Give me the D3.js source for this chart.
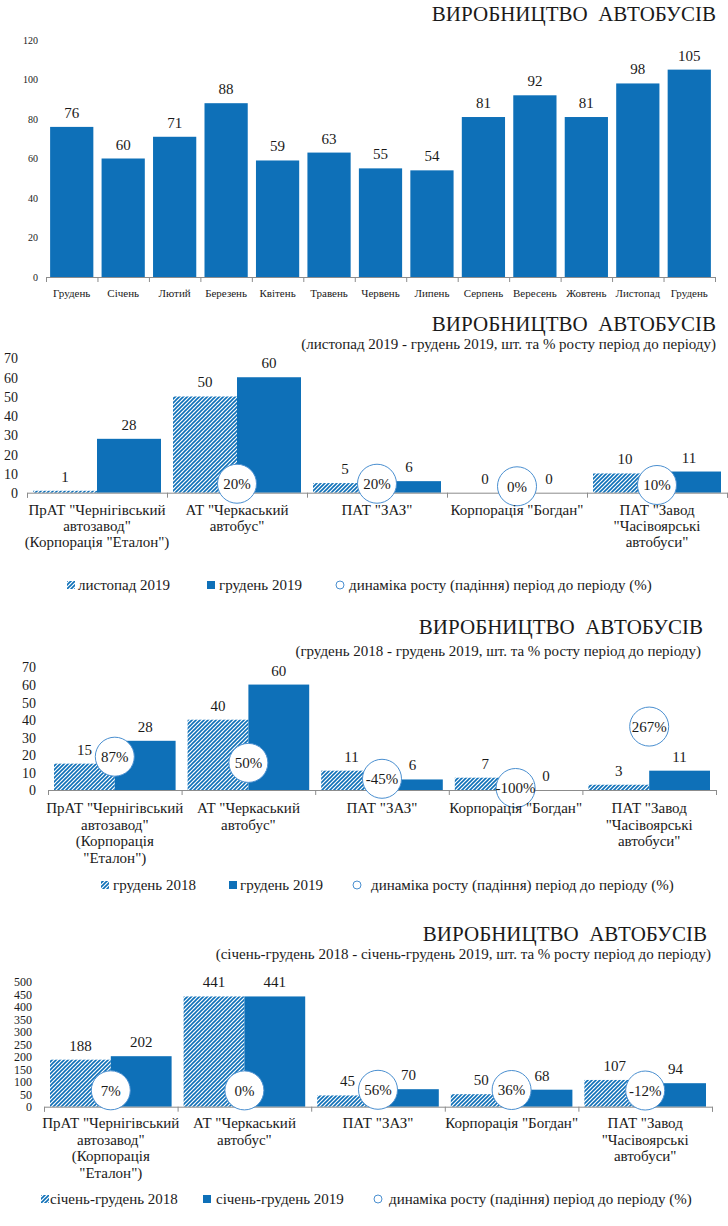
<!DOCTYPE html>
<html>
<head>
<meta charset="utf-8">
<script src="https://cdn.jsdelivr.net/npm/d3@7"></script>
<style>
  body { margin: 0; background: #fff; }
  text { font-family: "Liberation Serif", "DejaVu Serif", serif; fill: #1a1a1a; }
</style>
</head>
<body>
<div id="chart"></div>
<script>
// ---- data ----
var months = ["Грудень", "Січень", "Лютий", "Березень", "Квітень", "Травень", "Червень",
  "Липень", "Серпень", "Вересень", "Жовтень", "Листопад", "Грудень"];
var monthValues = [76, 60, 71, 88, 59, 63, 55, 54, 81, 92, 81, 98, 105];
var monthTicks = [0, 20, 40, 60, 80, 100, 120];

var companyLinesA = [
  ["ПрАТ \"Чернігівський", "автозавод\"", "(Корпорація \"Еталон\")"],
  ["АТ \"Черкаський", "автобус\""],
  ["ПАТ \"ЗАЗ\""],
  ["Корпорація \"Богдан\""],
  ["ПАТ \"Завод", "\"Часівоярські", "автобуси\""]
];
var companyLinesB = [
  ["ПрАТ \"Чернігівський", "автозавод\"", "(Корпорація", "\"Еталон\")"],
  ["АТ \"Черкаський", "автобус\""],
  ["ПАТ \"ЗАЗ\""],
  ["Корпорація \"Богдан\""],
  ["ПАТ \"Завод", "\"Часівоярські", "автобуси\""]
];

var nov2019 = [1, 50, 5, 0, 10];
var dec2019 = [28, 60, 6, 0, 11];
var growthNovDec = [null, 20, 20, 0, 10];

var dec2018 = [15, 40, 11, 7, 3];
var growthDec = [87, 50, -45, -100, 267];

var year2018 = [188, 441, 45, 50, 107];
var year2019 = [202, 441, 70, 68, 94];
var growthYear = [7, 0, 56, 36, -12];

var ticks70 = [0, 10, 20, 30, 40, 50, 60, 70];
var ticks500 = [0, 50, 100, 150, 200, 250, 300, 350, 400, 450, 500];

var titleText = "ВИРОБНИЦТВО  АВТОБУСІВ";
var growthName = "динаміка росту (падіння) період до періоду (%)";

var blue = "#0e70b8";
var ringBlue = "#4a8fd0";
var axisGrey = "#8c8c8c";

var svg = d3.select("#chart").append("svg")
  .attr("width", 728)
  .attr("height", 1226)
  .attr("font-family", "'Liberation Serif', 'DejaVu Serif', serif");

// hatch pattern
var pat = svg.append("defs").append("pattern")
  .attr("id", "hatch")
  .attr("patternUnits", "userSpaceOnUse")
  .attr("width", 4)
  .attr("height", 4);
pat.append("rect").attr("width", 4).attr("height", 4).attr("fill", "#fff");
pat.append("path")
  .attr("d", "M-1,1 l2,-2 M0,4 l4,-4 M3,5 l2,-2")
  .attr("stroke", blue)
  .attr("stroke-width", 1.6);

// ---- chart 1: monthly production ----
svg.append("text")
  .attr("x", 716).attr("y", 21)
  .attr("text-anchor", "end")
  .style("font-size", "21px")
  .style("white-space", "pre")
  .text(titleText);

var x1 = d3.scaleBand()
  .domain(d3.range(months.length))
  .range([46, 715])
  .paddingInner(0.16)
  .paddingOuter(0.08);

var y1 = d3.scaleLinear().domain([0, 120]).range([277, 40]);

var yAxis1 = svg.append("g")
  .attr("transform", "translate(46,0)")
  .call(d3.axisLeft(y1).tickValues(monthTicks).tickSize(0).tickPadding(8));
yAxis1.select(".domain").remove();
yAxis1.selectAll("text").style("font-size", "10px").attr("font-family", null);
yAxis1.attr("font-family", null);

svg.selectAll(".bar1")
  .data(monthValues)
  .enter()
  .append("rect")
  .attr("class", "bar1")
  .attr("x", (d, i) => x1(i))
  .attr("y", d => y1(d))
  .attr("width", x1.bandwidth())
  .attr("height", d => y1(0) - y1(d))
  .attr("fill", blue);

svg.selectAll(".val1")
  .data(monthValues)
  .enter()
  .append("text")
  .attr("class", "val1")
  .attr("x", (d, i) => x1(i) + x1.bandwidth() / 2)
  .attr("y", d => y1(d) - 9)
  .attr("text-anchor", "middle")
  .style("font-size", "15px")
  .text(d => d);

var edge1 = d3.scaleLinear().domain([0, months.length]).range([46, 715]);
var xAxis1 = svg.append("g")
  .attr("transform", "translate(0,277)")
  .call(d3.axisBottom(edge1).tickValues(d3.range(months.length + 1)).tickFormat("").tickSizeOuter(0).tickSize(5));
xAxis1.selectAll("line, path").attr("stroke", axisGrey);

svg.selectAll(".cat1")
  .data(months)
  .enter()
  .append("text")
  .attr("class", "cat1")
  .attr("x", (d, i) => x1(i) + x1.bandwidth() / 2)
  .attr("y", 297)
  .attr("text-anchor", "middle")
  .style("font-size", "11px")
  .text(d => d);

// ---- grouped charts ----
function groupChart(o) {
  var g = svg.append("g");

  g.append("text")
    .attr("x", o.titleRight).attr("y", o.titleY)
    .attr("text-anchor", "end")
    .style("font-size", "21px")
    .style("white-space", "pre")
    .text(titleText);

  g.append("text")
    .attr("x", o.subRight).attr("y", o.subY)
    .attr("text-anchor", "end")
    .style("font-size", "15px")
    .text(o.subtitle);

  var x = d3.scaleBand().domain(d3.range(o.labels.length)).range(o.xRange);
  var xs = d3.scaleBand().domain([0, 1]).range([6, x.bandwidth() - 6]);
  var y = d3.scaleLinear().domain([0, o.yMax]).range(o.yRange);
  var y2 = d3.scaleLinear().domain(o.y2Domain).range(o.yRange);

  var ya = g.append("g")
    .attr("transform", "translate(" + o.yLabelX + ",0)")
    .call(d3.axisLeft(y).tickValues(o.ticks).tickSize(0).tickPadding(0));
  ya.select(".domain").remove();
  ya.attr("font-family", null);
  ya.selectAll("text")
    .attr("font-family", null)
    .style("font-size", o.tickFont)
    .attr("dy", "0.35em");

  var series = [o.s1, o.s2];
  series.forEach(function(vals, k) {
    g.selectAll(".bar" + k)
      .data(vals)
      .enter()
      .append("rect")
      .attr("x", (d, i) => x(i) + xs(k))
      .attr("y", d => y(d))
      .attr("width", xs.bandwidth())
      .attr("height", d => y(0) - y(d))
      .attr("fill", k === 0 ? "url(#hatch)" : blue);

    g.selectAll(".val" + k)
      .data(vals)
      .enter()
      .append("text")
      .attr("x", (d, i) => x(i) + xs(k) + xs.bandwidth() / 2)
      .attr("y", d => y(d) - 9)
      .attr("text-anchor", "middle")
      .style("font-size", "15px")
      .text(d => d);
  });

  var edge = d3.scaleLinear().domain([0, o.labels.length]).range(o.xRange);
  var xa = g.append("g")
    .attr("transform", "translate(0," + o.yRange[0] + ")")
    .call(d3.axisBottom(edge).tickValues(d3.range(o.labels.length + 1)).tickFormat("").tickSizeOuter(0).tickSize(5));
  xa.selectAll("line, path").attr("stroke", axisGrey);

  // growth circles
  var pts = o.growth.map((v, i) => ({ v: v, i: i })).filter(d => d.v !== null);
  g.selectAll(".ring")
    .data(pts)
    .enter()
    .append("circle")
    .attr("cx", d => x(d.i) + x.bandwidth() / 2)
    .attr("cy", d => y2(d.v))
    .attr("r", 19.5)
    .attr("fill", "#fff")
    .attr("stroke", ringBlue)
    .attr("stroke-width", 1);
  g.selectAll(".pct")
    .data(pts)
    .enter()
    .append("text")
    .attr("x", d => x(d.i) + x.bandwidth() / 2)
    .attr("y", d => y2(d.v))
    .attr("dy", "0.35em")
    .attr("text-anchor", "middle")
    .style("font-size", "15px")
    .text(d => d.v + "%");

  // category labels
  var cats = g.selectAll(".cat")
    .data(o.labels)
    .enter()
    .append("text")
    .attr("x", (d, i) => x(i) + x.bandwidth() / 2)
    .attr("y", o.catY)
    .attr("text-anchor", "middle")
    .style("font-size", "15px");
  cats.selectAll("tspan")
    .data(d => d)
    .enter()
    .append("tspan")
    .attr("x", function() { return d3.select(this.parentNode).attr("x"); })
    .attr("dy", (d, j) => j === 0 ? 0 : o.lineH)
    .text(d => d);

  // legend
  var lg = g.append("g");
  lg.append("rect")
    .attr("x", o.legend[0][0]).attr("y", o.legendY - 9)
    .attr("width", 8).attr("height", 8)
    .attr("fill", "url(#hatch)");
  lg.append("rect")
    .attr("x", o.legend[1][0]).attr("y", o.legendY - 9)
    .attr("width", 8).attr("height", 8)
    .attr("fill", blue);
  lg.append("circle")
    .attr("cx", o.legend[2][0] + 4).attr("cy", o.legendY - 5)
    .attr("r", 4)
    .attr("fill", "#fff")
    .attr("stroke", ringBlue);
  var names = [o.name1, o.name2, growthName];
  names.forEach(function(n, k) {
    lg.append("text")
      .attr("x", o.legend[k][1]).attr("y", o.legendY)
      .style("font-size", "15px")
      .text(n);
  });
}

groupChart({
  titleRight: 716, titleY: 331,
  subRight: 716, subY: 349,
  subtitle: "(листопад 2019 - грудень 2019, шт. та % росту період до періоду)",
  labels: companyLinesA,
  s1: nov2019, s2: dec2019, growth: growthNovDec,
  yMax: 70, ticks: ticks70, tickFont: "14px",
  xRange: [27, 727], yRange: [492.7, 358],
  y2Domain: [-50, 1000],
  yLabelX: 18,
  catY: 515, lineH: 16,
  legendY: 590, legend: [[67, 78], [207, 219], [336, 349]],
  name1: "листопад 2019", name2: "грудень 2019"
});

groupChart({
  titleRight: 703, titleY: 634,
  subRight: 701, subY: 656,
  subtitle: "(грудень 2018 - грудень 2019, шт. та % росту період до періоду)",
  labels: companyLinesB,
  s1: dec2018, s2: dec2019, growth: growthDec,
  yMax: 70, ticks: ticks70, tickFont: "14px",
  xRange: [48, 716], yRange: [790, 667],
  y2Domain: [-112, 623],
  yLabelX: 36,
  catY: 813, lineH: 16.7,
  legendY: 890, legend: [[101, 113], [229, 240], [353, 371]],
  name1: "грудень 2018", name2: "грудень 2019"
});

groupChart({
  titleRight: 707, titleY: 941,
  subRight: 711, subY: 959,
  subtitle: "(січень-грудень 2018 - січень-грудень 2019, шт. та % росту період до періоду)",
  labels: companyLinesB,
  s1: year2018, s2: year2019, growth: growthYear,
  yMax: 500, ticks: ticks500, tickFont: "12px",
  xRange: [44, 712], yRange: [1106.7, 981.7],
  y2Domain: [-1500, 10000],
  yLabelX: 32,
  catY: 1128, lineH: 16.7,
  legendY: 1204, legend: [[41, 50], [203, 216], [374, 389]],
  name1: "січень-грудень 2018", name2: "січень-грудень 2019"
});
</script>
</body>
</html>
